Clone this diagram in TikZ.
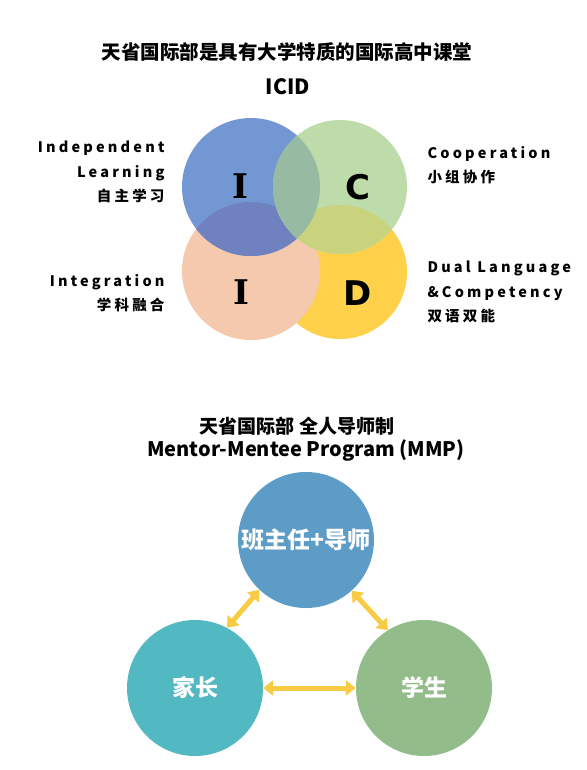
\documentclass[tikz,border=0pt]{standalone}
\usepackage{fontspec}
\usepackage{xcolor}
\usepackage{tikz}
\usetikzlibrary{arrows.meta}
\setmainfont{Noto Sans CJK SC}
\newfontfamily\widefont{Noto Sans CJK SC}[LetterSpace=22]
\newfontfamily\slabfont{DejaVu Serif}
\newfontfamily\heavyfont{DejaVu Sans}
\definecolor{icidBlue}{HTML}{7397D3}
\definecolor{icidGreen}{HTML}{BEDCA9}
\definecolor{icidPeach}{HTML}{F5C9AD}
\definecolor{icidYellow}{HTML}{FFD14B}
\definecolor{icidBlueGreen}{HTML}{97BAA3}
\definecolor{icidBluePeach}{HTML}{6F81BF}
\definecolor{icidGreenYellow}{HTML}{C9D37D}
\definecolor{mmpBlue}{HTML}{5E9CC8}
\definecolor{mmpTeal}{HTML}{52B8C1}
\definecolor{mmpGreen}{HTML}{92BC8A}
\definecolor{mmpArrow}{HTML}{F8CB45}
\tikzset{
  ttl/.style={font=\bfseries\fontsize{19.5}{24}\selectfont},
  side/.style={font=\widefont\bfseries\fontsize{14.5}{24.5}\selectfont},
}

\begin{document}
\begin{tikzpicture}[x=1pt, y=-1pt,
  slab/.style={font=\slabfont\bfseries\fontsize{34}{36}\selectfont},
  heavy/.style={font=\heavyfont\bfseries\fontsize{34}{36}\selectfont},
  person/.style={circle, minimum size=136pt, inner sep=0pt, text=white,
                 font=\bfseries\fontsize{23}{25}\selectfont},
  link/.style={mmpArrow, line width=5pt,
               {Triangle[width=15pt,length=10pt]}-{Triangle[width=15pt,length=10pt]}}]
  \fill[white] (0,0) rectangle (586,770);
  \useasboundingbox (0,0) rectangle (586,770);
  % ICID
  \node[ttl] (title) at (287,52) {天省国际部是具有大学特质的国际高中课堂};
  \node[font=\bfseries\fontsize{21}{24}\selectfont] (icid) at (288,87) {ICID};
  \coordinate (cind) at (251,187);
  \coordinate (ccoo) at (340,187);
  \coordinate (cint) at (251,271);
  \coordinate (cdua) at (340,272);
  \fill[icidYellow] (cdua) circle (67pt);
  \fill[icidPeach]  (cint) circle (69pt);
  \fill[icidBlue]   (cind) circle (69pt);
  \begin{scope}
    \clip (cind) circle (69pt);
    \fill[icidBluePeach] (cint) circle (69pt);
  \end{scope}
  \fill[icidGreen] (ccoo) circle (67pt);
  \begin{scope}
    \clip (ccoo) circle (67pt);
    \fill[icidGreenYellow] (cdua) circle (67pt);
    \fill[icidBlueGreen]   (cind) circle (69pt);
  \end{scope}
  \node[slab]  (li) at (240,186) {I};
  \node[heavy] (lc) at (358,187) {C};
  \node[slab]  (lt) at (241,292) {I};
  \node[heavy] (ld) at (358,293) {D};
  \node[side, anchor=east, align=right] (ind) at (168,172) {Independent\\Learning\\自主学习};
  \node[side, anchor=east, align=right] (int) at (168,293) {Integration\\学科融合};
  \node[side, anchor=west, align=left] (coo) at (424,165) {Cooperation\\小组协作};
  \node[side, anchor=west, align=left] (dua) at (424,292) {Dual Language\\\&Competency\\双语双能};
  % MMP
  \node[font=\bfseries\fontsize{19}{22}\selectfont] (mmp) at (297,426) {天省国际部 全人导师制};
  \node[font=\bfseries\fontsize{20}{22}\selectfont] (mmpen) at (306,450) {Mentor-Mentee Program (MMP)};
  \node[person, fill=mmpBlue]  (tutor)   at (306,540) {班主任+导师};
  \node[person, fill=mmpTeal]  (parent)  at (195,688) {家长};
  \node[person, fill=mmpGreen] (student) at (424,688) {学生};
  \draw[link] (parent.62) -- (tutor.227);
  \draw[link] (tutor.312) -- (student.122);
  \draw[link] (parent) -- (student);
\end{tikzpicture}
\end{document}
